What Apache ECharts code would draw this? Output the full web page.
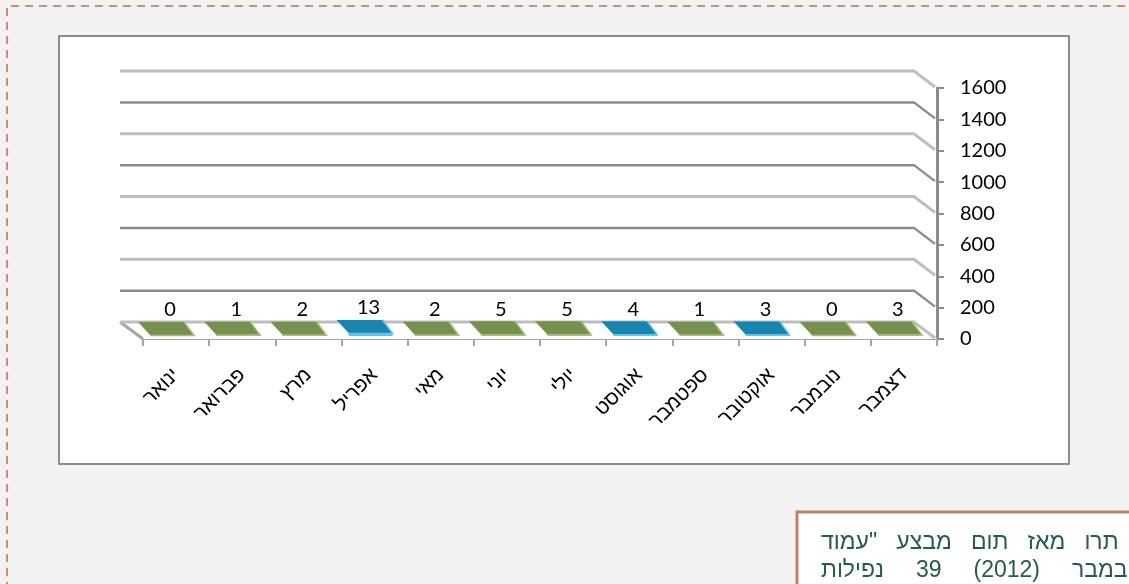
<!DOCTYPE html>
<html><head><meta charset="utf-8">
<script src="https://cdn.jsdelivr.net/npm/echarts@6/dist/echarts.min.js"></script>
<style>html,body{margin:0;padding:0;background:#f2f2f2;}#c{width:1129px;height:584px;}</style>
</head><body><div id="c"></div>
<script>
const months = ['ינואר','פברואר','מרץ','אפריל','מאי','יוני','יולי','אוגוסט','ספטמבר','אוקטובר','נובמבר','דצמבר'];
const counts = [0,1,2,13,2,5,5,4,1,3,0,3];
const highlighted = ['אפריל','אוגוסט','אוקטובר'];
const yTicks = [0,200,400,600,800,1000,1200,1400,1600];
const noteLine1 = 'תרו   מאז   תום   מבצע   "עמוד';
const noteLine2 = 'במבר     (2012)     39     נפילות';

const DX = -23, DY = -17;
const NUM_FONT = 'Lato, "Liberation Sans", sans-serif';
const HEB_FONT = '"Liberation Sans", "DejaVu Sans", sans-serif';

function renderWall(params, api) {
  const v = api.value(1);
  const bw = api.size([1, 0])[0];
  const p0 = api.coord([0, v]);
  const pN = api.coord([months.length - 1, v]);
  const L = p0[0] - bw / 2, R = pN[0] + bw / 2, y = p0[1];
  const odd = params.dataIndex % 2 === 1;
  const children = [];
  if (v === 0) {
    children.push({type: 'polygon', shape: {points: [[L + DX, y + DY], [R + DX, y + DY], [R, y], [L, y]]},
      style: {fill: '#ffffff'}});
    children.push({type: 'line', shape: {x1: L + DX, y1: y + DY, x2: L, y2: y},
      style: {stroke: '#a6a6a6', lineWidth: 3}});
  }
  children.push({type: 'polyline', shape: {points: [[L + DX, y + DY], [R + DX, y + DY], [R - 2, y - 1]]},
    style: {stroke: odd ? '#8c8c8c' : '#bebebe', lineWidth: odd ? 2.5 : 3, fill: null}});
  return {type: 'group', children: children};
}

function renderBar(params, api) {
  const i = api.value(0), v = api.value(1);
  const base = api.coord([i, 0]);
  const top = api.coord([i, v]);
  const h = base[1] - top[1];
  const c = base[0], y0 = base[1];
  const hi = highlighted.indexOf(months[i]) >= 0;
  const topCol = hi ? '#1984ad' : '#76904e';
  const sideCol = hi ? '#5cc7ec' : '#a5bf74';
  const fy = y0 - 4 - h, by = y0 - 17 - h;
  return {type: 'group', children: [
    {type: 'polygon', shape: {points: [[c - 26, y0 - 3], [c + 18, y0 - 3], [c + 18, fy], [c - 26, fy]]},
      style: {fill: sideCol}},
    {type: 'polygon', shape: {points: [[c - 38, by], [c + 8, by], [c + 18, fy], [c - 26, fy]]},
      style: {fill: topCol}},
    {type: 'polyline', shape: {points: [[c - 26, fy + 0.5], [c + 18, fy + 0.5], [c + 8, by]]},
      style: {stroke: sideCol, lineWidth: 1.5, fill: null}},
    {type: 'text', x: c - 6, y: y0 - 29 - h,
      style: {text: String(v), fill: '#000', fontSize: 20, fontFamily: NUM_FONT, align: 'center', verticalAlign: 'middle'}}
  ]};
}

const chart = echarts.init(document.getElementById('c'), null, {renderer: 'canvas'});
chart.setOption({
  animation: false,
  backgroundColor: '#f2f2f2',
  grid: {left: 143, right: 192, top: 88, bottom: 245, containLabel: false},
  xAxis: {
    type: 'category', data: months, boundaryGap: true,
    axisLine: {show: true, lineStyle: {color: '#a6a6a6', width: 2}},
    axisTick: {show: true, length: 7, lineStyle: {color: '#a6a6a6', width: 2}},
    axisLabel: {rotate: 45, margin: 33, interval: 0, fontSize: 20, fontFamily: HEB_FONT, color: '#000'},
    splitLine: {show: false}
  },
  yAxis: {
    type: 'value', position: 'right', min: 0, max: 1600, interval: 200,
    axisLine: {show: true, lineStyle: {color: '#8c8c8c', width: 3}},
    axisTick: {show: true, length: 7, lineStyle: {color: '#8c8c8c', width: 2}},
    axisLabel: {margin: 23, fontSize: 20, fontFamily: NUM_FONT, color: '#000',
      formatter: function (v) { return String(v); }},
    splitLine: {show: false}
  },
  graphic: [
    {type: 'rect', z: -100, shape: {x: 59, y: 36, width: 1010, height: 428},
      style: {fill: '#ffffff', stroke: '#8c8c8c', lineWidth: 2}},
    {type: 'polyline', shape: {points: [[7, 590], [7, 6], [1135, 6]]},
      style: {stroke: '#d48d6b', lineWidth: 2, lineDash: [8, 6], fill: null}},
    {type: 'rect', shape: {x: 797, y: 512, width: 400, height: 100},
      style: {fill: '#ffffff', stroke: '#c27f66', lineWidth: 3}},
    {type: 'text', x: 821, y: 543,
      style: {text: noteLine1, fill: '#225e44', fontSize: 23, fontFamily: HEB_FONT, align: 'left', verticalAlign: 'middle'}},
    {type: 'text', x: 821, y: 571,
      style: {text: noteLine2, fill: '#225e44', fontSize: 23, fontFamily: HEB_FONT, align: 'left', verticalAlign: 'middle'}}
  ],
  series: [
    {type: 'custom', name: 'walls', z: 1, silent: true, renderItem: renderWall,
      encode: {x: 0, y: 1}, data: yTicks.map(function (v) { return [0, v]; })},
    {type: 'custom', name: 'counts', z: 3, renderItem: renderBar,
      encode: {x: 0, y: 1}, data: counts.map(function (v, i) { return [i, v]; })}
  ]
});
</script></body></html>
